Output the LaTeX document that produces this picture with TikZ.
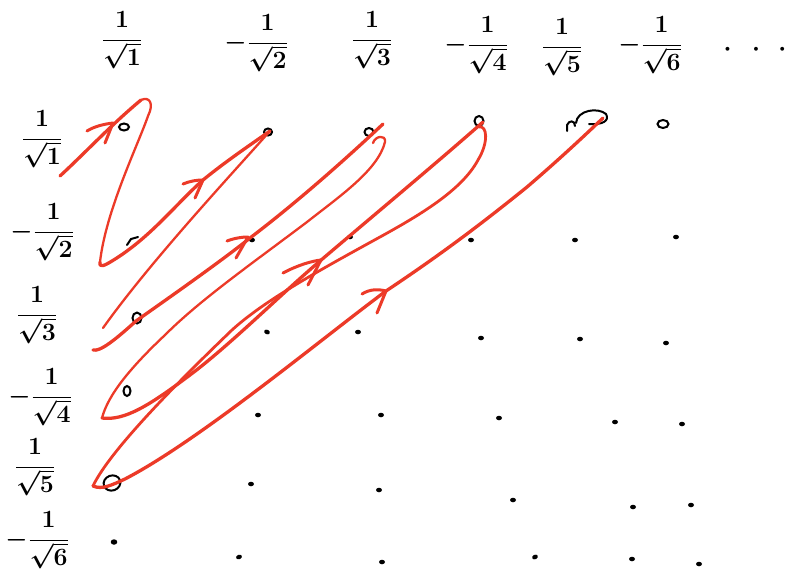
\documentclass[tikz,border=0pt]{standalone}
\usetikzlibrary{shapes.geometric}
\definecolor{penred}{RGB}{236,58,40}
\newcommand{\mns}{{\fontsize{24}{28}\selectfont$-$}\hspace{1pt}}
\tikzset{
  lbl/.style={font=\fontsize{32}{36}\selectfont\boldmath, inner sep=0pt},
  fwd/.style={draw=penred, line width=3.3pt, line cap=round, line join=round},
  ret/.style={draw=penred, line width=2.3pt, line cap=round, line join=round},
  barb/.style={draw=penred, line width=3pt, line cap=round, line join=round},
  ink/.style={draw=black, line width=2pt, line cap=round},
  dotnode/.style={ellipse, fill=black, inner sep=0pt, minimum width=6pt, minimum height=4.5pt},
  ring/.style={ellipse, draw=black, line width=2pt, inner sep=0pt},
}
\begin{document}
\begin{tikzpicture}[x=1pt,y=-1pt]
\useasboundingbox (0,0) rectangle (796,571);
% column labels
\node[lbl] (c1) at (122,40) {$\displaystyle\frac{1}{\sqrt1}$};
\node[lbl] (c2) at (256,43) {\mns$\displaystyle\frac{1}{\sqrt2}$};
\node[lbl] (c3) at (372,40) {$\displaystyle\frac{1}{\sqrt3}$};
\node[lbl] (c4) at (476,45) {\mns$\displaystyle\frac{1}{\sqrt4}$};
\node[lbl] (c5) at (562,47) {$\displaystyle\frac{1}{\sqrt5}$};
\node[lbl] (c6) at (650,45) {\mns$\displaystyle\frac{1}{\sqrt6}$};
\node[lbl] (cd) at (755,50) {$\cdot\hspace{14pt}\cdot\hspace{12pt}\cdot$};
% row labels
\node[lbl] (r1) at (42,139) {$\displaystyle\frac{1}{\sqrt1}$};
\node[lbl] (r2) at (42,232) {\mns$\displaystyle\frac{1}{\sqrt2}$};
\node[lbl] (r3) at (37,315) {$\displaystyle\frac{1}{\sqrt3}$};
\node[lbl] (r4) at (40,397) {\mns$\displaystyle\frac{1}{\sqrt4}$};
\node[lbl] (r5) at (35,467) {$\displaystyle\frac{1}{\sqrt5}$};
\node[lbl] (r6) at (37,540) {\mns$\displaystyle\frac{1}{\sqrt6}$};
% grid marks: row 1
\node[ring, minimum width=10pt, minimum height=7pt] (m11) at (124,127) {};
\node[ring, minimum width=8pt, minimum height=7pt] (m12) at (268,132) {};
\node[ring, minimum width=9pt, minimum height=8pt] (m13) at (369,132) {};
\node[ring, minimum width=9pt, minimum height=10pt] (m14) at (479,121) {};
\coordinate (m15) at (588,117);
\node[ring, minimum width=11pt, minimum height=8pt] (m16) at (663,124) {};
% row 2
\coordinate (m21) at (133,240);
\node[dotnode] (m22) at (252,240) {};
\node[dotnode] (m23) at (350,237) {};
\node[dotnode] (m24) at (471,240) {};
\node[dotnode] (m25) at (575,240) {};
\node[dotnode] (m26) at (676,237) {};
% row 3
\node[ring, minimum width=9pt, minimum height=11pt] (m31) at (137,318) {};
\node[dotnode, rotate=-25] (m32) at (267,332) {};
\node[dotnode] (m33) at (358,332) {};
\node[dotnode] (m34) at (481,338) {};
\node[dotnode] (m35) at (580,339) {};
\node[dotnode] (m36) at (666,343) {};
% row 4
\node[ring, minimum width=7pt, minimum height=10pt] (m41) at (127,391) {};
\node[dotnode] (m42) at (258,415) {};
\node[dotnode] (m43) at (381,415) {};
\node[dotnode] (m44) at (499,418) {};
\node[dotnode] (m45) at (615,422) {};
\node[dotnode] (m46) at (682,424) {};
% row 5
\node[ring, minimum width=17pt, minimum height=15pt, rotate=20] (m51) at (112,483) {};
\node[dotnode] (m52) at (251,484) {};
\node[dotnode] (m53) at (379,490) {};
\node[dotnode] (m54) at (513,500) {};
\node[dotnode] (m55) at (633,507) {};
\node[dotnode] (m56) at (691,505) {};
% row 6
\node[dotnode, minimum width=6.5pt, minimum height=5.5pt] (m61) at (114,542) {};
\node[dotnode, rotate=20] (m62) at (239,557) {};
\node[dotnode] (m63) at (382,562) {};
\node[dotnode, rotate=25] (m64) at (535,557) {};
\node[dotnode] (m65) at (632,559) {};
\node[dotnode] (m66) at (699,564) {};
% special hand marks
\draw[ink] (127,245) -- (131,239) -- (138,237);
\draw[ink] (567,131) -- (567,125) .. controls (569,120) and (575,120) .. (575,126);
\draw[ink] (576,123) .. controls (577,110) and (598,107) .. (606,114) .. controls (610,121) and (602,125) .. (589,124);
% red path turning points
\coordinate (s1) at (60,176);
\coordinate (t1) at (141,100);
\coordinate (b2) at (100,262);
\coordinate (t2) at (270,131);
\coordinate (e2) at (103,328);
\coordinate (b3) at (93,350);
\coordinate (t3) at (383,124);
\coordinate (h3) at (373,143);
\coordinate (b4) at (102,418);
\coordinate (t4) at (483,122);
\coordinate (h4) at (479,127);
\coordinate (b5) at (93,486);
\coordinate (t5) at (603,118);
% red strokes
\draw[fwd] (s1) .. controls (85,153) and (112,124) .. (t1);
\draw[ret] (t1) .. controls (150,96) and (154,104) .. (148,116) .. controls (138,145) and (106,210) .. (b2);
\draw[fwd] (b2) .. controls (99,268) and (104,266) .. (112,261) .. controls (150,238) and (175,205) .. (203,180) .. controls (225,162) and (250,145) .. (t2);
\draw[ret] (t2) .. controls (230,176) and (150,262) .. (e2);
\draw[fwd] (b3) .. controls (100,352) and (115,340) .. (136,321) .. controls (170,297) and (220,262) .. (250,238) .. controls (300,200) and (350,155) .. (t3);
\draw[ret] (h3) .. controls (375,136) and (386,134) .. (385,142) .. controls (378,170) and (340,196) .. (307,222) .. controls (250,265) and (200,300) .. (165,335) .. controls (130,368) and (108,395) .. (b4);
\draw[fwd] (b4) .. controls (125,421) and (150,405) .. (190,375) .. controls (230,345) and (280,295) .. (320,261) .. controls (380,210) and (440,160) .. (t4);
\draw[ret, line width=2.8pt] (h4) .. controls (487,125) and (489,142) .. (478,160) .. controls (462,190) and (420,215) .. (380,237) .. controls (320,270) and (265,300) .. (232,330) .. controls (180,380) and (110,450) .. (b5);
\draw[fwd] (b5) .. controls (102,490) and (112,485) .. (125,479) .. controls (200,440) and (320,340) .. (386,291) .. controls (440,255) and (480,225) .. (527,187) .. controls (555,163) and (580,140) .. (t5);
% arrow barbs
\draw[barb] (87,131) .. controls (95,126) and (105,124) .. (113,123) -- (105,143);
\draw[barb] (183,184) .. controls (190,181) and (197,180) .. (203,180) -- (195,198);
\draw[barb] (227,241) .. controls (235,238) and (242,237) .. (248,237) -- (236,258);
\draw[barb] (283,273) .. controls (298,265) and (312,261) .. (321,260) -- (308,285);
\draw[barb] (362,294) .. controls (370,289) and (378,289) .. (386,291) -- (377,313);
\end{tikzpicture}
\end{document}
